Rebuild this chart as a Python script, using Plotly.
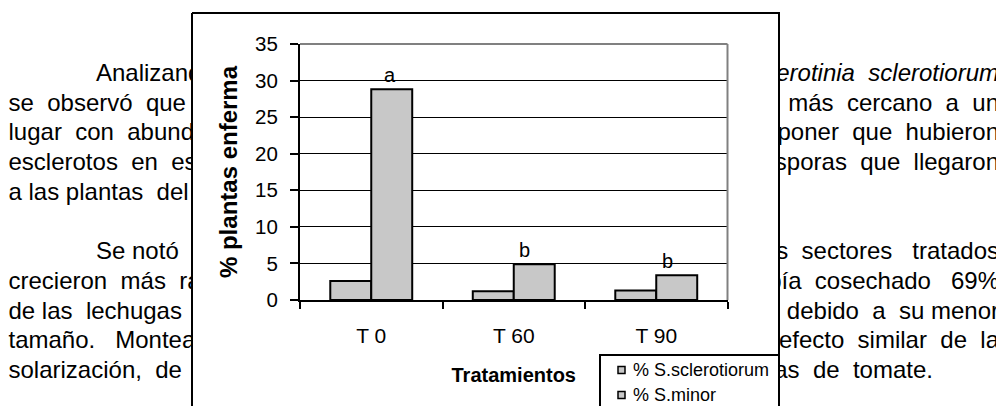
import plotly.graph_objects as go

# ---------------- data ----------------
categories = ["T 0", "T 60", "T 90"]
s_sclerotiorum = [2.6, 1.2, 1.3]
s_minor = [28.8, 4.9, 3.4]
series_names = ["% S.sclerotiorum", "% S.minor"]
letters = ["a", "b", "b"]
y_ticks = [0, 5, 10, 15, 20, 25, 30, 35]
x_title = "Tratamientos"
y_title = "% plantas enferma"

# surrounding document text (visible fragments of the page around the chart;
# doubled spaces imitate the justified lines of the page)
NB = "\u00a0"
doc_left = [
    "Analizando",
    "se" + NB + " observó" + NB + " que",
    "lugar" + NB + " con" + NB + " abundancia",
    "esclerotos" + NB + " en" + NB + " este",
    "a las plantas" + NB + " del",
    "",
    "Se notó",
    "crecieron" + NB + " más" + NB + " rápido",
    "de las" + NB + " lechugas",
    "tamaño." + NB + NB + " Montealegre",
    "solarización," + NB + " de",
]
doc_right = [
    "<i>Sclerotinia" + NB + " sclerotiorum</i>",
    "más" + NB + " cercano" + NB + " a" + NB + " un",
    "suponer" + NB + " que" + NB + " hubieron",
    "ascosporas" + NB + " que" + NB + " llegaron",
    "", "",
    "los" + NB + " sectores" + NB + NB + " tratados",
    "había" + NB + " cosechado" + NB + NB + " 69%",
    "debido" + NB + " a" + NB + " su menor",
    "un" + NB + " efecto" + NB + " similar" + NB + " de" + NB + " la",
    "as" + NB + " de" + NB + " tomate.",
]

# ---------------- layout constants ----------------
W, H = 1004, 406
OFF = 8                       # page body margin of the html page
FONT = "Liberation Sans, Arial, sans-serif"
BAR_FILL = "#C8C8C8"
DOC_SIZE = 24
LINE0, PITCH = 75, 29.7
INDENT_LINES = {0, 6}
LEFT_X, INDENT_X, RIGHT_X = 8.5, 96, 999
LAST_LINE_RIGHT = 933
BOX = (192, 13, 779)          # outer chart frame: left, top, right (px)
PLOT = (300, 44, 727.5, 300)  # plot area: left, top, right, bottom (px)
LETTER_DX = [19, 11, 11]
LEG_LEFT, LEG_TOP = 600, 355
LEG_ROWS = [370, 395]


def px(x):
    return (x - OFF) / W


def py(y):
    return 1 - (y - OFF) / H


fig = go.Figure()

# ---------- page text (base layer, px coordinates) ----------
lx, ly, lt = [], [], []
for i, t in enumerate(doc_left):
    if t:
        lx.append(INDENT_X if i in INDENT_LINES else LEFT_X)
        ly.append(LINE0 + PITCH * i)
        lt.append(t)
fig.add_trace(go.Scatter(
    x=lx, y=ly, text=lt, mode="text", textposition="middle right", cliponaxis=False,
    textfont=dict(family=FONT, size=DOC_SIZE, color="black"),
    hoverinfo="skip", showlegend=False, xaxis="x", yaxis="y"))

rx, ry, rt = [], [], []
for i, t in enumerate(doc_right):
    if t:
        rx.append(LAST_LINE_RIGHT if i == len(doc_right) - 1 else RIGHT_X)
        ry.append(LINE0 + PITCH * i)
        rt.append(t)
fig.add_trace(go.Scatter(
    x=rx, y=ry, text=rt, mode="text", textposition="middle left", cliponaxis=False,
    textfont=dict(family=FONT, size=DOC_SIZE, color="black"),
    hoverinfo="skip", showlegend=False, xaxis="x", yaxis="y"))

# white chart frame covering the page text
bl, bt, br = BOX
fig.add_trace(go.Scatter(
    x=[bl, br, br, bl, bl], y=[bt, bt, H + 40, H + 40, bt], mode="lines",
    fill="toself", fillcolor="white", line=dict(color="black", width=2),
    hoverinfo="skip", showlegend=False, xaxis="x", yaxis="y"))

# ---------- chart ----------
for name, vals in zip(series_names, [s_sclerotiorum, s_minor]):
    fig.add_trace(go.Bar(
        x=categories, y=vals, name=name, xaxis="x2", yaxis="y2",
        marker=dict(color=BAR_FILL, line=dict(color="black", width=2)),
        showlegend=False))

pl, pt, pr, pb = PLOT

fig.update_layout(
    width=W, height=H,
    margin=dict(l=0, r=0, t=0, b=0, pad=0, autoexpand=False),
    paper_bgcolor="white", plot_bgcolor="white",
    showlegend=False,
    barmode="group", bargap=0.425, bargroupgap=0,
    font=dict(family=FONT, color="black"),
    xaxis=dict(domain=[0, 1], range=[OFF, W + OFF], visible=False,
               fixedrange=True, automargin=False),
    yaxis=dict(domain=[0, 1], range=[H + OFF, OFF], visible=False,
               fixedrange=True, automargin=False),
    xaxis2=dict(
        domain=[px(pl), px(pr)], anchor="y2", type="category", automargin=False,
        categoryorder="array", categoryarray=categories, fixedrange=True,
        showline=True, linecolor="black", linewidth=2,
        ticks="outside", tickson="boundaries", ticklen=7, tickwidth=2,
        tickcolor="black", ticklabelstandoff=16,
        tickfont=dict(family=FONT, size=21, color="black"),
        showgrid=False, zeroline=False,
        title=dict(text="<b>%s</b>" % x_title, standoff=22,
                   font=dict(family=FONT, size=20, color="black")),
    ),
    yaxis2=dict(
        domain=[py(pb), py(pt)], anchor="x2", range=[0, 35], automargin=False,
        tickvals=y_ticks, fixedrange=True,
        showline=True, linecolor="black", linewidth=2,
        ticks="outside", ticklen=8, tickwidth=2, tickcolor="black",
        ticklabelstandoff=8,
        tickfont=dict(family=FONT, size=20.5, color="black"),
        showgrid=True, gridcolor="black", gridwidth=1, zeroline=False,
        title=dict(text="<b>%s</b>" % y_title, standoff=11,
                   font=dict(family=FONT, size=24, color="black")),
    ),
)

# plot-area border (grey top and right)
fig.add_shape(type="line", xref="x2 domain", yref="y2 domain", x0=0, x1=1, y0=1, y1=1,
              line=dict(color="#808080", width=2), layer="above")
fig.add_shape(type="line", xref="x2 domain", yref="y2 domain", x0=1, x1=1, y0=0, y1=1,
              line=dict(color="#808080", width=2), layer="above")

# significance letters above the S. minor bars
for cat, val, lab, dx in zip(categories, s_minor, letters, LETTER_DX):
    fig.add_annotation(x=cat, y=val, xref="x2", yref="y2", text=lab, showarrow=False,
                       xshift=dx, yshift=14, yanchor="middle",
                       font=dict(family=FONT, size=20, color="black"))

# legend (Excel style, partly cut by the page bottom)
fig.add_shape(type="rect", xref="paper", yref="paper",
              x0=px(LEG_LEFT), x1=px(br), y0=py(H + 40), y1=py(LEG_TOP),
              fillcolor="white", line=dict(color="black", width=2), layer="above")
for name, ry_ in zip(series_names, LEG_ROWS):
    fig.add_shape(type="rect", xref="paper", yref="paper",
                  x0=px(LEG_LEFT + 18), x1=px(LEG_LEFT + 25),
                  y0=py(ry_ + 3.5), y1=py(ry_ - 3.5),
                  fillcolor=BAR_FILL, line=dict(color="black", width=1.5), layer="above")
    fig.add_annotation(x=px(LEG_LEFT + 31), y=py(ry_), xref="paper", yref="paper",
                       text=name, showarrow=False, xanchor="left", yanchor="middle",
                       font=dict(family=FONT, size=18, color="black"))

fig.write_html("out.html")
